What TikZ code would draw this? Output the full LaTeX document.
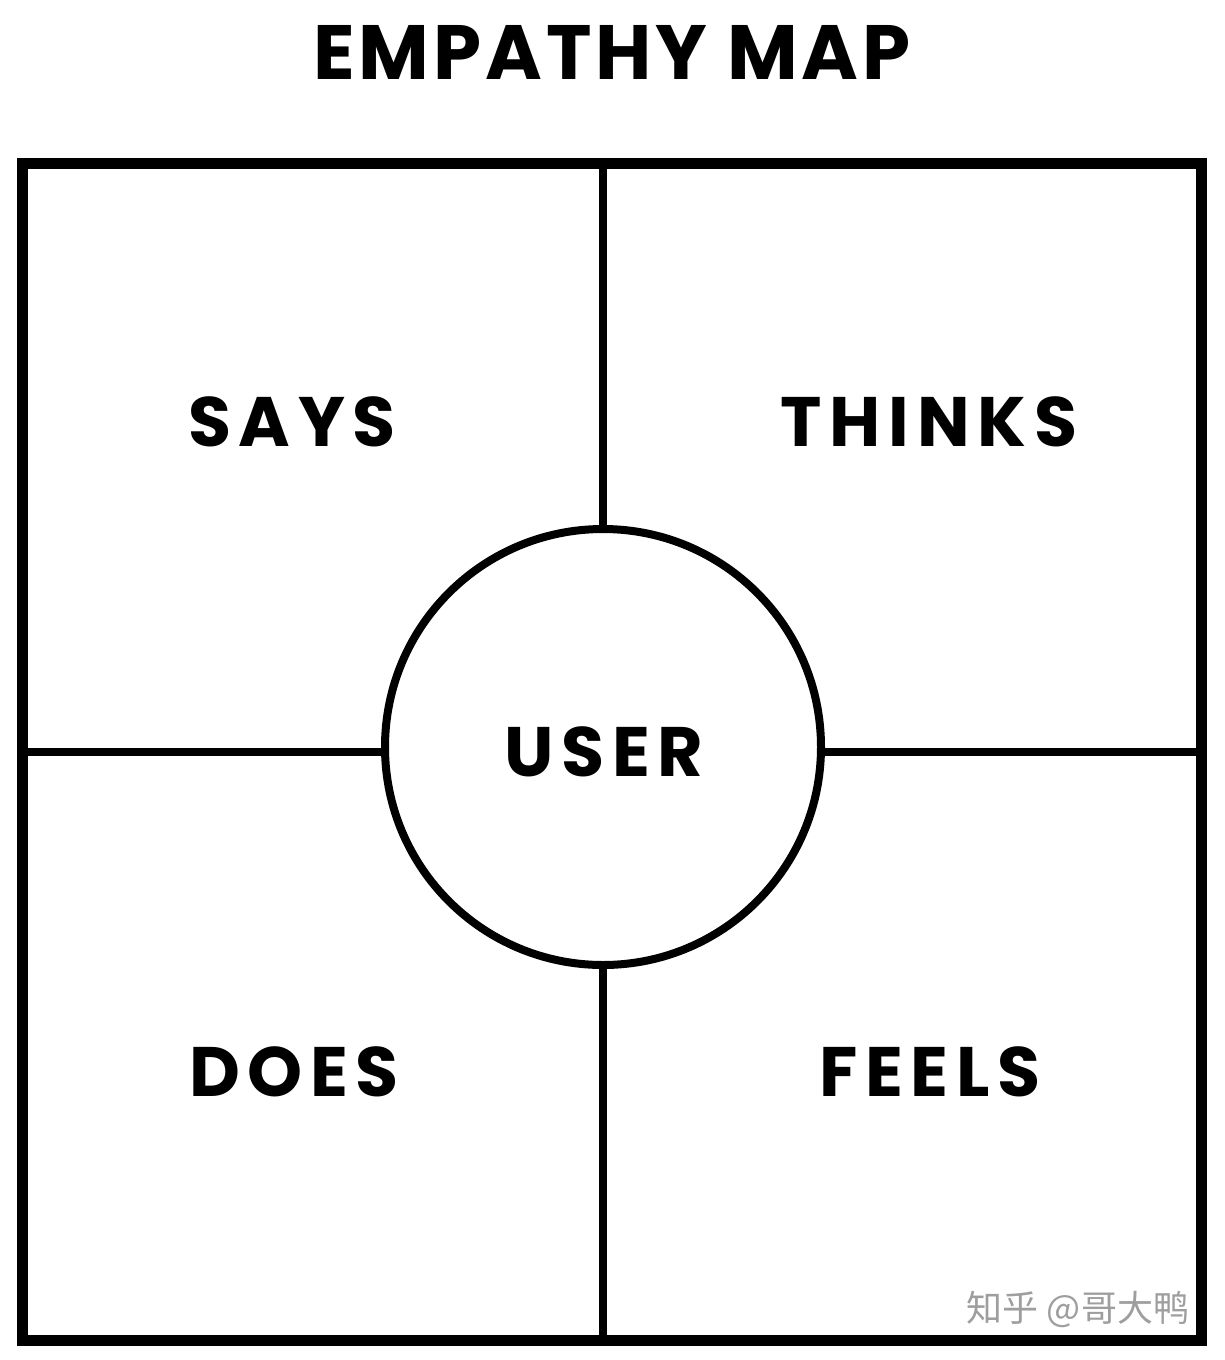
\documentclass[tikz,border=0pt]{standalone}
\usepackage{fontspec}
\newfontfamily\labfont{Poppins}[LetterSpace=11]
\newfontfamily\titlefont{Poppins}[LetterSpace=5]
\newfontfamily\cjk{Noto Sans CJK SC}
\begin{document}
\begin{tikzpicture}[x=1pt,y=-1pt,
  heavy/.style={line width=11pt,draw=black},
  divider/.style={line width=8pt,draw=black},
  lab/.style={font=\labfont\bfseries\fontsize{70}{70}\selectfont,inner sep=0pt,anchor=center},
  wm/.style={font=\cjk\fontsize{36}{36}\selectfont,text=black!38,inner sep=0pt}]
\useasboundingbox (0,0) rectangle (1224,1360);
\fill[white] (0,0) rectangle (1224,1360);
\node[font=\titlefont\bfseries\fontsize{77}{77}\selectfont,inner sep=0pt] (title) at (612,52) {EMPATHY MAP};
\node[heavy,rectangle,minimum width=1179pt,minimum height=1177pt,inner sep=0pt] (frame) at (612,752) {};
\node[divider,circle,minimum size=436pt,inner sep=0pt] (user) at (603,747) {};
\coordinate (top) at (603,163.5);
\coordinate (bot) at (603,1340);
\coordinate (lft) at (22.5,752);
\coordinate (rgt) at (1201.5,752);
\draw[divider] (top) -- (user.north);
\draw[divider] (user.south) -- (bot);
\draw[divider] (lft) -- (user.west |- lft);
\draw[divider] (user.east |- rgt) -- (rgt);
\node[lab] (says) at (292,422) {SAYS};
\node[lab] (thinks) at (929,422) {THINKS};
\node[lab] (usertext) at (604,752) {USER};
\node[lab] (does) at (294,1072) {DOES};
\node[lab] (feels) at (930,1072) {FEELS};
\node[wm] (mark) at (1078,1309) {知乎 @哥大鸭};
\end{tikzpicture}
\end{document}
